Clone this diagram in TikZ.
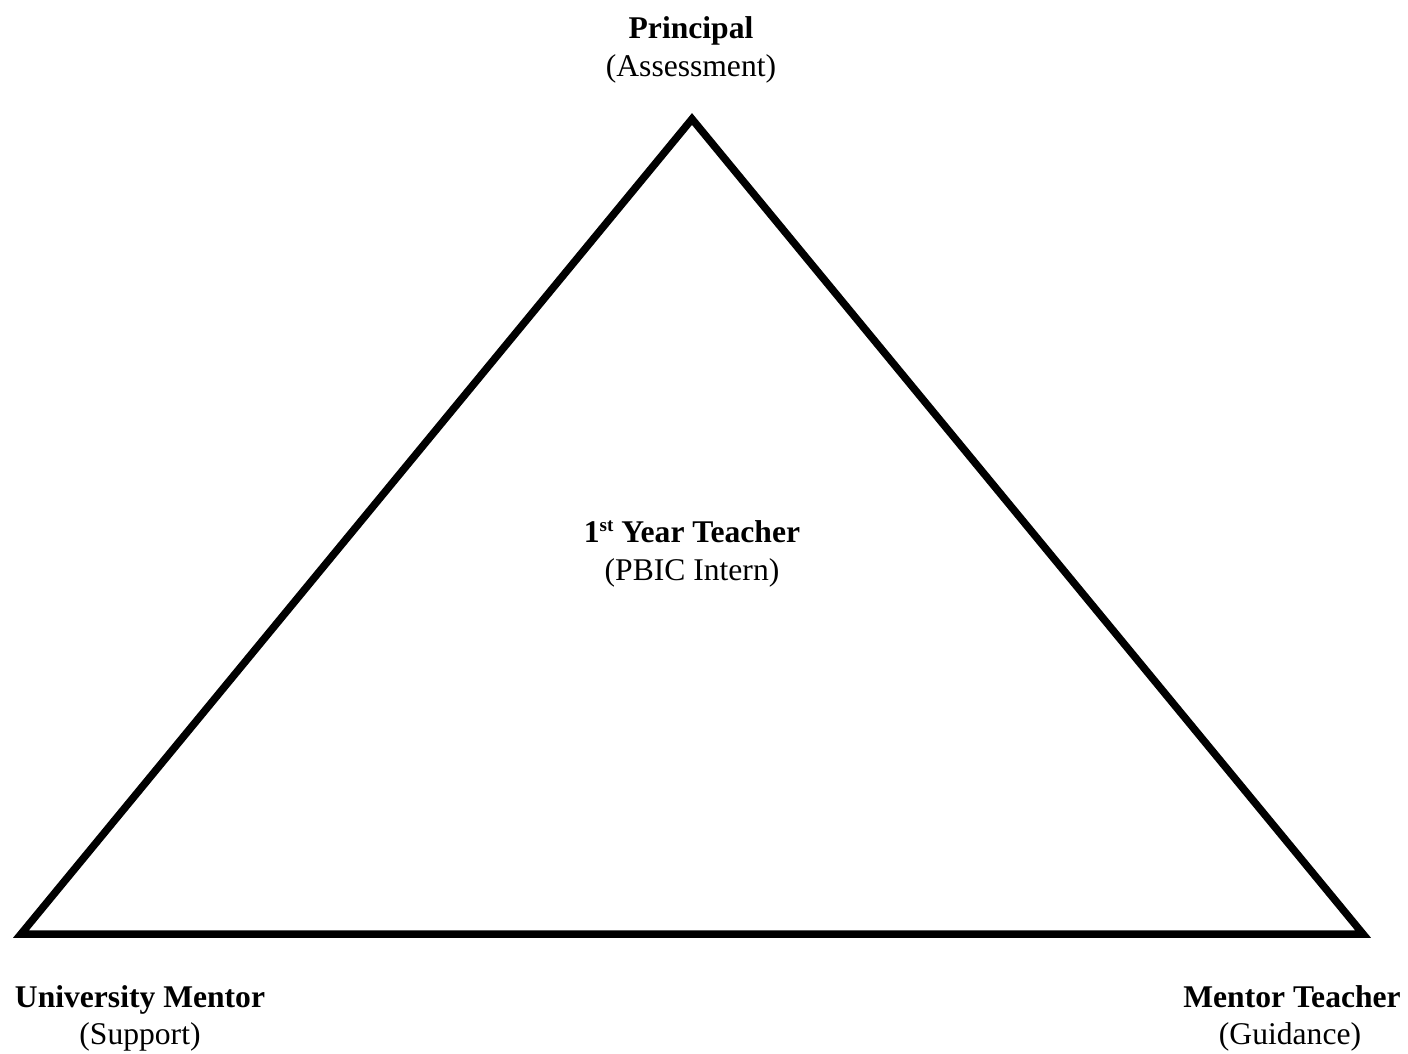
\documentclass[tikz,border=0pt]{standalone}
\usepackage{fontspec}
\setmainfont{Liberation Serif}
\newcommand{\mysup}[1]{\raisebox{11pt}{\fontsize{19}{19}\selectfont #1}}
\begin{document}
\begin{tikzpicture}[x=1pt,y=-1pt,
  lbl/.style={anchor=base,inner sep=0pt,font=\fontsize{31.6}{38}\selectfont},
  title/.style={lbl,font=\fontsize{31.6}{38}\selectfont\bfseries},
  edge/.style={line width=7.5pt,line join=miter}]
\useasboundingbox (0,0) rectangle (1408,1053);
\coordinate (top) at (692,119);
\coordinate (bl) at (21,934);
\coordinate (br) at (1363,934);
\draw[edge] (top) -- (bl) -- (br) -- cycle;
\node[title] (p1) at (691,38) {Principal};
\node[lbl] (p2) at (691,76) {(Assessment)};
\node[title] (c1) at (692,542) {1\mysup{st} Year Teacher};
\node[lbl] (c2) at (692,580) {(PBIC Intern)};
\node[title] (u1) at (140,1007) {University Mentor};
\node[lbl] (u2) at (140,1044) {(Support)};
\node[title] (m1) at (1292,1007) {Mentor Teacher};
\node[lbl] (m2) at (1290,1044) {(Guidance)};
\end{tikzpicture}
\end{document}
